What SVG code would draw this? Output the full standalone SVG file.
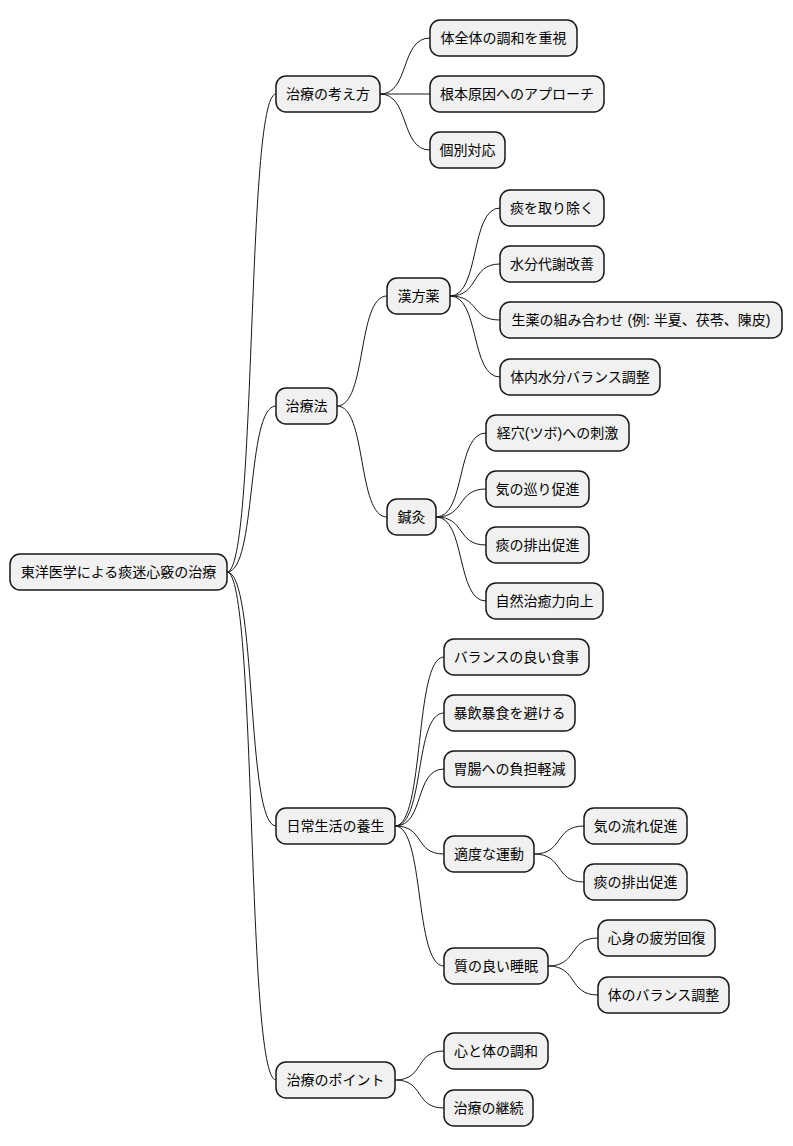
<svg xmlns="http://www.w3.org/2000/svg" width="793" height="1146" viewBox="0 0 793 1146">
<style>
rect{fill:#F1F1F1;stroke:#181818;stroke-width:1.5}
text{font-family:"Liberation Sans","Noto Sans CJK JP",sans-serif;font-size:14px;fill:#000;text-anchor:middle;dominant-baseline:central}
path{fill:none;stroke:#181818;stroke-width:1}
</style>
<rect x="0" y="0" width="793" height="1146" style="fill:#fff;stroke:none"/>
<g id="connectors">
<path d="M227 572 C257 572,246 94,276 94"/>
<path d="M227 572 C257 572,246 406,276 406"/>
<path d="M227 572 C257 572,246 826,276 826"/>
<path d="M227 572 C257 572,246 1080,276 1080"/>
<path d="M380 94 C410 94,400 38,430 38"/>
<path d="M380 94 L430 94"/>
<path d="M380 94 C410 94,400 150,430 150"/>
<path d="M337 406 C367 406,357 296,387 296"/>
<path d="M337 406 C367 406,357 517,387 517"/>
<path d="M450 296 C480 296,470 208,500 208"/>
<path d="M450 296 C480 296,470 264,500 264"/>
<path d="M450 296 C480 296,470 320,500 320"/>
<path d="M450 296 C480 296,470 377,500 377"/>
<path d="M436 517 C466 517,456 433,486 433"/>
<path d="M436 517 C466 517,456 489,486 489"/>
<path d="M436 517 C466 517,456 545,486 545"/>
<path d="M436 517 C466 517,456 601,486 601"/>
<path d="M395 826 C425 826,414 657,444 657"/>
<path d="M395 826 C425 826,414 713,444 713"/>
<path d="M395 826 C425 826,414 769,444 769"/>
<path d="M395 826 C425 826,414 854,444 854"/>
<path d="M395 826 C425 826,414 966,444 966"/>
<path d="M534 854 C564 854,554 826,584 826"/>
<path d="M534 854 C564 854,554 882,584 882"/>
<path d="M548 966 C578 966,568 938,598 938"/>
<path d="M548 966 C578 966,568 995,598 995"/>
<path d="M395 1080 C425 1080,414 1051,444 1051"/>
<path d="M395 1080 C425 1080,414 1108,444 1108"/>
</g>
<g id="root"><rect x="10" y="554" width="217" height="36" rx="10"/><text x="118.5" y="572">東洋医学による痰迷心竅の治療</text></g>
<g id="n1"><rect x="276" y="76" width="104" height="36" rx="10"/><text x="328" y="94">治療の考え方</text></g>
<g id="n2"><rect x="276" y="388" width="61" height="36" rx="10"/><text x="306.5" y="406">治療法</text></g>
<g id="n3"><rect x="276" y="808" width="119" height="36" rx="10"/><text x="335.5" y="826">日常生活の養生</text></g>
<g id="n4"><rect x="276" y="1062" width="119" height="36" rx="10"/><text x="335.5" y="1080">治療のポイント</text></g>
<g id="n1a"><rect x="430" y="20" width="147" height="36" rx="10"/><text x="503.5" y="38">体全体の調和を重視</text></g>
<g id="n1b"><rect x="430" y="76" width="174" height="36" rx="10"/><text x="517" y="94">根本原因へのアプローチ</text></g>
<g id="n1c"><rect x="430" y="132" width="75" height="36" rx="10"/><text x="467.5" y="150">個別対応</text></g>
<g id="n2a"><rect x="387" y="278" width="63" height="36" rx="10"/><text x="418.5" y="296">漢方薬</text></g>
<g id="n2b"><rect x="387" y="499" width="49" height="36" rx="10"/><text x="411.5" y="517">鍼灸</text></g>
<g id="n2a1"><rect x="500" y="190" width="104" height="36" rx="10"/><text x="552" y="208">痰を取り除く</text></g>
<g id="n2a2"><rect x="500" y="246" width="104" height="36" rx="10"/><text x="552" y="264">水分代謝改善</text></g>
<g id="n2a3"><rect x="500" y="302" width="282" height="36" rx="10"/><text x="641" y="320">生薬の組み合わせ (例: 半夏、茯苓、陳皮)</text></g>
<g id="n2a4"><rect x="500" y="359" width="160" height="36" rx="10"/><text x="580" y="377">体内水分バランス調整</text></g>
<g id="n2b1"><rect x="486" y="415" width="143" height="36" rx="10"/><text x="557.5" y="433">経穴(ツボ)への刺激</text></g>
<g id="n2b2"><rect x="486" y="471" width="103" height="36" rx="10"/><text x="537.5" y="489">気の巡り促進</text></g>
<g id="n2b3"><rect x="486" y="527" width="103" height="36" rx="10"/><text x="537.5" y="545">痰の排出促進</text></g>
<g id="n2b4"><rect x="486" y="583" width="117" height="36" rx="10"/><text x="544.5" y="601">自然治癒力向上</text></g>
<g id="n3a"><rect x="444" y="639" width="145" height="36" rx="10"/><text x="516.5" y="657">バランスの良い食事</text></g>
<g id="n3b"><rect x="444" y="695" width="131" height="36" rx="10"/><text x="509.5" y="713">暴飲暴食を避ける</text></g>
<g id="n3c"><rect x="444" y="751" width="131" height="36" rx="10"/><text x="509.5" y="769">胃腸への負担軽減</text></g>
<g id="n3d"><rect x="444" y="836" width="90" height="36" rx="10"/><text x="489" y="854">適度な運動</text></g>
<g id="n3e"><rect x="444" y="948" width="104" height="36" rx="10"/><text x="496" y="966">質の良い睡眠</text></g>
<g id="n3d1"><rect x="584" y="808" width="103" height="36" rx="10"/><text x="635.5" y="826">気の流れ促進</text></g>
<g id="n3d2"><rect x="584" y="864" width="103" height="36" rx="10"/><text x="635.5" y="882">痰の排出促進</text></g>
<g id="n3e1"><rect x="598" y="920" width="117" height="36" rx="10"/><text x="656.5" y="938">心身の疲労回復</text></g>
<g id="n3e2"><rect x="598" y="977" width="131" height="36" rx="10"/><text x="663.5" y="995">体のバランス調整</text></g>
<g id="n4a"><rect x="444" y="1033" width="104" height="36" rx="10"/><text x="496" y="1051">心と体の調和</text></g>
<g id="n4b"><rect x="444" y="1090" width="89" height="36" rx="10"/><text x="488.5" y="1108">治療の継続</text></g>
</svg>
